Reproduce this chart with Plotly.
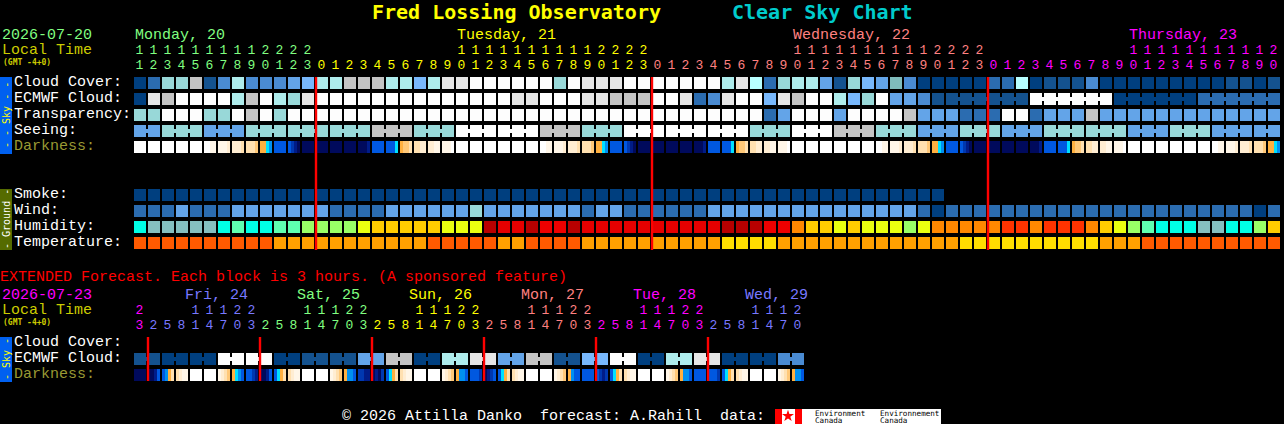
import plotly.graph_objects as go

# ---------- data ----------
hours_main = [11,12,13,14,15,16,17,18,19,20,21,22,23,
              0,1,2,3,4,5,6,7,8,9,10,11,12,13,14,15,16,17,18,19,20,21,22,23,
              0,1,2,3,4,5,6,7,8,9,10,11,12,13,14,15,16,17,18,19,20,21,22,23,
              0,1,2,3,4,5,6,7,8,9,10,11,12,13,14,15,16,17,18,19,20]
hours_ext = [23,2,5,8,11,14,17,20,23,2,5,8,11,14,17,20,23,2,5,8,11,14,17,20,23,
             2,5,8,11,14,17,20,23,2,5,8,11,14,17,20,23,2,5,8,11,14,17,20]
day_names_main = ["Monday, 20", "Tuesday, 21", "Wednesday, 22", "Thursday, 23"]
day_names_ext = ["Fri, 24", "Sat, 25", "Sun, 26", "Mon, 27", "Tue, 28", "Wed, 29"]

cloud_cover = [0,2,7,7,10,1,3,8,3,3,3,4,5,8,8,10,10,10,8,8,5,8,11,11,12,12,12,12,12,12,7,12,11,11,11,12,12,12,12,12,12,12,
               8,11,9,2,7,8,8,4,1,7,5,4,6,3,0,0,0,0,0,2,2,9,0,1,1,1,3,0,0,0,0,0,0,0,0,0,1,1,0,1]
ecmwf = [0,11,10,12,12,12,12,8,10,12,8,7,11,12,12,12,12,12,12,12,12,12,12,12,12,12,12,11,11,12,12,12,11,11,10,10,10,12,12,11,2,3,
         11,12,12,5,11,10,12,12,8,5,7,12,4,4,3,1,1,1,1,1,1,1,12,12,12,12,12,12,0,0,0,0,0,0,2,2,2,2,2,2]
transparency = [7,7,12,12,12,7,7,12,10,12,7,12,12,12,12,12,12,12,12,12,12,12,12,12,12,12,12,12,12,12,12,12,12,12,12,12,12,12,12,12,12,12,
                12,12,12,2,4,12,12,12,4,12,12,12,12,10,4,4,4,2,2,2,12,12,2,4,4,4,10,4,4,4,4,4,4,4,4,4,4,4,4,4]
seeing = [4,4,7,7,7,4,4,4,7,7,7,7,7,7,7,7,7,10,10,10,7,7,7,12,12,12,12,12,12,10,10,10,7,7,7,12,12,12,12,12,12,12,12,12,
          7,7,7,12,12,12,10,10,10,7,7,7,4,4,4,7,7,7,4,4,4,7,7,7,7,7,7,4,4,4,7,7,7,4,4,4,4,4]
smoke = [0,0,0,0,0,0,0,0,0,0,0,0,0,0,0,0,0,0,0,0,0,0,0,0,0,0,0,0,0,0,0,0,0,0,0,0,0,0,0,0,0,0,0,0,0,0,0,0,0,0,0,0,0,0,0,0,0,0]
wind = [2,2,2,4,2,2,2,4,4,4,4,4,4,4,2,2,2,2,4,4,4,4,4,4,7,4,4,4,4,4,4,4,2,4,4,2,2,2,2,2,2,4,
        4,4,4,4,4,4,4,4,4,4,4,4,4,4,2,0,2,2,2,2,2,2,2,2,2,2,2,2,2,2,2,2,2,2,2,2,2,2,0,2]
humidity = [0,1,1,1,1,1,0,2,0,0,2,2,3,3,3,3,4,5,5,5,5,5,4,4,4,9,8,8,9,10,10,9,8,8,8,8,8,8,8,8,8,8,9,9,9,10,10,6,5,5,4,5,
            4,4,4,3,4,6,6,6,6,6,7,7,6,7,7,7,6,5,4,3,2,0,0,0,1,1,0,0,3,5]
temperature = [0,0,0,0,0,0,0,0,0,0,1,1,1,1,1,1,1,1,1,1,1,0,0,0,0,0,1,1,0,0,0,0,1,1,1,1,1,1,1,1,1,1,2,2,2,2,1,1,1,1,1,1,
               1,1,1,1,1,1,1,2,2,2,2,2,2,2,2,2,2,1,1,1,0,0,0,0,0,0,0,0,0,0]
ext_ecmwf = [1,0,0,12,12,0,1,1,4,10,0,8,11,4,10,1,5,12,0,8,11,0,0,3]

darkness = [[0,0,0,0],[0,0,0,0],[0,0,0,0],[0,0,0,0],[0,0,0,0],[0,0,1,1],[1,1,1,2],[2,2,2,3],[3,3,3,4],[5,5,6,7],[8,8,8,8],[8,9,10,11],
            [11,11,11,11],[11,11,11,11],[11,11,11,11],[11,11,11,11],[11,11,11,10],[8,8,8,8],[8,8,8,6],[5,4,4,3],[3,3,2,2],[2,2,1,1],[1,1,1,0],
            [0,0,0,0],[0,0,0,0],[0,0,0,0],[0,0,0,0],[0,0,0,0],[0,0,0,0],[0,0,1,1],[1,1,1,2],[2,2,2,3],[3,3,3,4],[5,5,6,7],[8,8,8,8],[8,9,10,11],
            [11,11,11,11],[11,11,11,11],[11,11,11,11],[11,11,11,11],[11,11,11,10],[8,8,8,8],[8,8,8,6],[5,4,4,3],[3,3,2,2],[2,2,1,1],[1,1,1,0],
            [0,0,0,0],[0,0,0,0],[0,0,0,0],[0,0,0,0],[0,0,0,0],[0,0,0,0],[0,0,1,1],[1,1,1,2],[2,2,2,3],[3,3,3,4],[5,5,6,7],[8,8,8,8],[8,9,10,11],
            [11,11,11,11],[11,11,11,11],[11,11,11,11],[11,11,11,11],[11,11,11,10],[8,8,8,8],[8,8,8,6],[5,4,4,3],[3,3,2,2],[2,2,1,1],[1,1,1,0],
            [0,0,0,0],[0,0,0,0],[0,0,0,0],[0,0,0,0],[0,0,0,0],[0,0,0,0],[0,0,1,1],[1,1,1,2],[2,2,2,3],[3,3,3,4],[5,5,6,7]]
ext_darkness = [[11,11,11,11],[11,11,10,8],[8,7,5,3],[3,2,1,1],[0,0,0,0],[0,0,0,0],[1,2,3,4],[5,6,7,8],
                [8,8,9,10],[11,11,10,8],[8,6,5,3],[3,2,1,1],[0,0,0,0],[0,0,0,0],[1,2,3,4],[5,7,7,8],
                [9,9,10,10],[11,10,11,9],[8,6,5,3],[3,2,1,1],[0,0,0,0],[0,0,0,0],[1,2,3,4],[5,7,7,8],
                [8,8,8,9],[11,10,9,8],[8,6,5,3],[3,2,1,1],[0,0,0,0],[0,0,0,0],[1,2,3,4],[5,7,8,8],
                [8,8,8,8],[8,9,10,9],[8,6,5,3],[3,2,1,1],[0,0,0,0],[0,0,0,0],[1,2,3,4],[5,7,7,8],
                [8,8,8,8],[8,8,8,9],[8,6,5,3],[3,2,1,1],[0,0,0,0],[0,0,0,0],[1,2,3,4],[5,7,7,8]]

# ---------- styling ----------
SKY = ["#003f7f","#14528f","#2b6cb0","#4a8bd2","#63a4e8","#78b8fc","#7fbcbc","#98d8d8",
       "#aeecec","#b8ffff","#c4c4c4","#e6e6e6","#fdfdfd"]
HUM = ["#00ffe6","#85bfbf","#5effb0","#99ff66","#eaff10","#ffcc00","#ff8800","#ff3300","#e60000","#b80000","#ee0000"]
TEMP = ["#ff5a00","#ffa000","#ffdd00"]
DARK = ["#ffffff","#fff6e8","#ffedd2","#ffe0b0","#ffc878","#ffb040","#00e0ff","#0090f0","#0058e0","#0038b0","#001c88","#000a5c"]
GREEN, YEL, SAL, MAG, BLU = "#80ff80", "#ffff00", "#ff8080", "#ff00ff", "#7878ff"
OLIVE = "#cccc00"
MONO = "DejaVu Sans Mono"
THIN = "Liberation Mono"
X0, PITCH = 140, 14


def scale(pal):
    n = len(pal) - 1
    return [[i / n, c] for i, c in enumerate(pal)]


fig = go.Figure()


def row(vals, yc, pal):
    fig.add_trace(go.Heatmap(z=[vals], x0=X0, dx=PITCH, y0=yc, dy=14, xgap=2, ygap=2,
                             colorscale=scale(pal), zmin=0, zmax=len(pal)-1,
                             showscale=False, hoverinfo="skip"))


def bridges(vals, yc, pal, joined):
    z = [vals[i] if joined(i) and vals[i] == vals[i+1] else None for i in range(len(vals)-1)]
    fig.add_trace(go.Heatmap(z=[z], x0=X0+PITCH/2, dx=PITCH, y0=yc, dy=4, xgap=12,
                             colorscale=scale(pal), zmin=0, zmax=len(pal)-1,
                             showscale=False, hoverinfo="skip"))


def dark_row(cols, yc):
    edges, z = [], []
    for i, c in enumerate(cols):
        left = X0 - 6 + PITCH * i
        edges += [left, left+3, left+6, left+9]
        z += list(c)
        edges.append(left + 12)
        z.append(None)
    edges.append(X0 - 6 + PITCH * len(cols))
    fig.add_trace(go.Heatmap(z=[z], x=edges, y0=yc, dy=12, colorscale=scale(DARK), zmin=0,
                             zmax=len(DARK)-1, showscale=False, hoverinfo="skip"))


row(cloud_cover, 83, SKY)
row(ecmwf, 99, SKY)
bridges(ecmwf, 99, SKY, lambda i: i >= 58)
row(transparency, 115, SKY)
row(seeing, 131, SKY)
bridges(seeing, 131, SKY, lambda i: (i - 2) % 3 != 2)
dark_row(darkness, 147)
row(smoke, 195, SKY)
row(wind, 211, SKY)
row(humidity, 227, HUM)
row(temperature, 243, TEMP)

ext_cols = [v for v in ext_ecmwf for _ in (0, 1)]
row(ext_cols, 359, SKY)
bridges(ext_cols, 359, SKY, lambda i: i % 2 == 0)
dark_row(ext_darkness, 375)

# red midnight lines
line_x, line_y = [], []
for lx in (316, 652, 988):
    line_x += [lx, lx, None]; line_y += [77, 250, None]
for lx in (148, 260, 372, 484, 596, 708):
    line_x += [lx, lx, None]; line_y += [337, 381, None]
fig.add_trace(go.Scatter(x=line_x, y=line_y, mode="lines", line=dict(color="#ff0000", width=2.4), hoverinfo="skip"))


def digits(hours, colours, y_t, y_u):
    xs = [X0 - 0.5 + PITCH * i for i in range(len(hours))]
    t = [(x, str(h // 10), c) for x, h, c in zip(xs, hours, colours) if h >= 10]
    fig.add_trace(go.Scatter(x=[a[0] for a in t], y=[y_t]*len(t), text=[a[1] for a in t], mode="text",
                             textfont=dict(family=THIN, size=13, color=[a[2] for a in t]), hoverinfo="skip"))
    fig.add_trace(go.Scatter(x=xs, y=[y_u]*len(xs), text=[str(h % 10) for h in hours], mode="text",
                             textfont=dict(family=THIN, size=13, color=list(colours)), hoverinfo="skip"))


main_cols = [GREEN]*13 + [YEL]*24 + [SAL]*24 + [MAG]*21
ext_colours = [MAG] + [BLU]*8 + [GREEN]*8 + [YEL]*8 + [SAL]*8 + [MAG]*8 + [BLU]*7
digits(hours_main, main_cols, 51, 66)
digits(hours_ext, ext_colours, 311, 326)

# maple leaf
fig.add_trace(go.Scatter(x=[788], y=[416], mode="markers", hoverinfo="skip",
                         marker=dict(symbol="star", size=9, color="#ff0000")))

ann = []


def txt(x, y, s, color="#ffffff", size=15, bold=False, angle=0, anchor="left", family=THIN):
    ann.append(dict(x=x, y=y, xref="x", yref="y", text=f"<b>{s}</b>" if bold else s, showarrow=False,
                    xanchor=anchor, yanchor="middle", textangle=angle, borderpad=0, borderwidth=0,
                    font=dict(family=family, size=size, color=color)))


txt(372, 12, "Fred Lossing Observatory", YEL, 20, True, family=MONO)
txt(732, 12, "Clear Sky Chart", "#00cccc", 20, True, family=MONO)
txt(2, 35, "2026-07-20", GREEN)
txt(2, 50, "Local Time", OLIVE)
txt(3, 62, "(GMT -4+0)", OLIVE, 8, True, family=MONO)
for x, s, c in zip((135, 457, 793, 1129), day_names_main, (GREEN, YEL, SAL, MAG)):
    txt(x, 35, s, c)
for y, s, c in ((82, "Cloud Cover:", "#fff"), (98, "ECMWF Cloud:", "#fff"), (114, "Transparency:", "#fff"),
                (130, "Seeing:", "#fff"), (146, "Darkness:", "#999933"), (194, "Smoke:", "#fff"),
                (210, "Wind:", "#fff"), (226, "Humidity:", "#fff"), (242, "Temperature:", "#fff"),
                (342, "Cloud Cover:", "#fff"), (358, "ECMWF Cloud:", "#fff"), (374, "Darkness:", "#999933")):
    txt(14, y, s, c)
txt(0, 277, "EXTENDED Forecast. Each block is 3 hours. (A sponsored feature)", "#ff0000")
txt(2, 295, "2026-07-23", MAG)
txt(2, 310, "Local Time", OLIVE)
txt(3, 322, "(GMT -4+0)", OLIVE, 8, True, family=MONO)
for x, s, c in zip((185, 297, 409, 521, 633, 745), day_names_ext, (BLU, GREEN, YEL, SAL, MAG, BLU)):
    txt(x, 295, s, c)
txt(342, 416, "© 2026 Attilla Danko  forecast: A.Rahill  data:", "#ffffff")
txt(6, 115, "- - Sky - -", YEL, 10, angle=-90, anchor="center", family=MONO)
txt(6, 219, "- Ground -", "#ffffff", 10, angle=-90, anchor="center", family=MONO)
txt(6, 359, "- Sky -", YEL, 10, angle=-90, anchor="center", family=MONO)
txt(815, 413, "Environment", "#000000", 7.6, family=MONO)
txt(815, 420, "Canada", "#000000", 7.6, family=MONO)
txt(880, 413, "Environnement", "#000000", 7.6, family=MONO)
txt(880, 420, "Canada", "#000000", 7.6, family=MONO)

shapes = []
for x0, y0, x1, y1, col in ((0, 77, 12, 154, "#0060f0"), (0, 189, 12, 250, "#556b00"), (0, 337, 12, 382, "#0060f0"),
                            (775, 409, 941, 424, "#ffffff"), (775, 409, 782, 424, "#ff0000"), (795, 409, 802, 424, "#ff0000")):
    shapes.append(dict(type="rect", xref="x", yref="y", x0=x0, y0=y0, x1=x1, y1=y1, fillcolor=col,
                       line=dict(width=0), layer="below"))

fig.update_layout(width=1284, height=424, margin=dict(l=0, r=0, t=0, b=0), paper_bgcolor="#000000",
                  plot_bgcolor="#000000", showlegend=False, annotations=ann, shapes=shapes,
                  xaxis=dict(range=[0, 1284], visible=False, fixedrange=True),
                  yaxis=dict(range=[424, 0], visible=False, fixedrange=True))
fig.write_html("out.html", config=dict(displayModeBar=False),
               post_script="document.body.style.margin='0';document.body.style.overflow='hidden';")
